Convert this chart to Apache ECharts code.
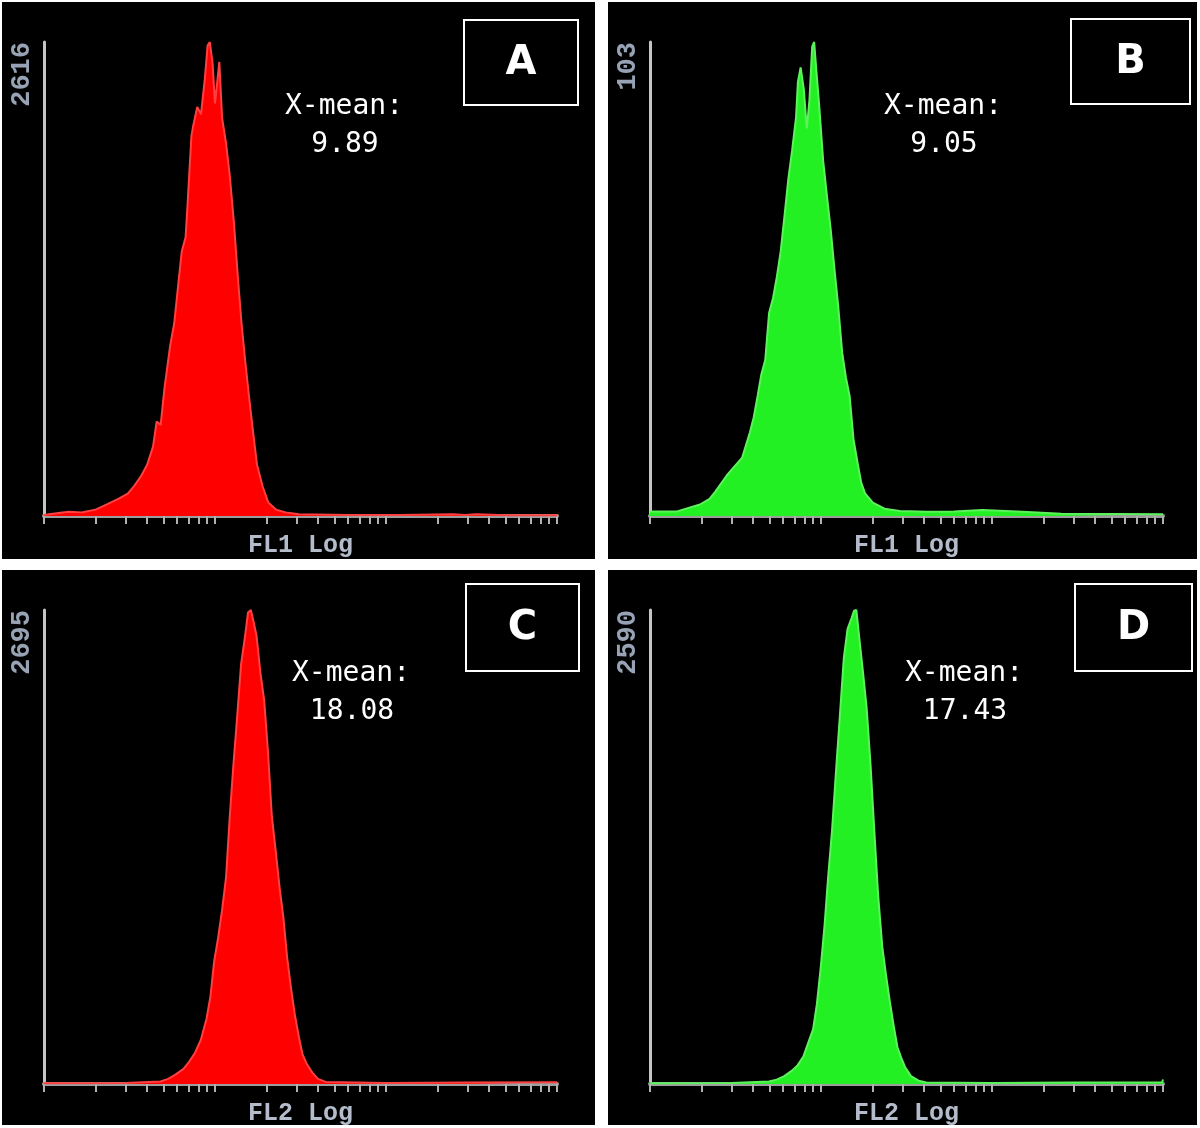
<!DOCTYPE html>
<html>
<head>
<meta charset="utf-8">
<title>FL1 / FL2 Log histograms</title>
<script src="https://cdn.jsdelivr.net/npm/echarts@6.0.0/dist/echarts.min.js"></script>
<style>
html, body { margin: 0; padding: 0; background: #fff; }
.panel { position: absolute; background: #000; }
#panelA { left: 2px; top: 2px; width: 593px; height: 557px; }
#panelB { left: 608px; top: 2px; width: 589px; height: 557px; }
#panelC { left: 2px; top: 570px; width: 593px; height: 555px; }
#panelD { left: 608px; top: 570px; width: 589px; height: 555px; }
</style>
</head>
<body>
<div id="panelA" class="panel"></div>
<div id="panelB" class="panel"></div>
<div id="panelC" class="panel"></div>
<div id="panelD" class="panel"></div>

<script>
// panel letters, x-axis names, y-axis max counts, X-mean values
var panelLetters = ['A', 'B', 'C', 'D']
var axisNames = ['FL1 Log', 'FL1 Log', 'FL2 Log', 'FL2 Log']
var maxCounts = [2616, 103, 2695, 2590]
var xMeans = ['9.89', '9.05', '18.08', '17.43']

// A - FL1, red
var fluorA = [1, 1.07, 1.39, 1.66, 1.99, 2.33, 2.72, 3.09, 3.35, 3.71, 4.01, 4.34, 4.56, 4.81, 5.06, 5.47, 5.77, 6.07, 6.39, 6.73, 6.91, 7.28, 7.47, 7.87, 8.28, 8.73, 9.05, 9.33, 9.68, 10.0, 10.6, 11.0, 11.6, 12.2, 12.9, 13.6, 14.3, 15.0, 15.8, 16.7, 17.6, 19.0, 20.5, 22.8, 25.9, 31.0, 60, 120, 246, 290, 337, 500, 1000]
var countsA = [6, 10, 24, 20, 34, 64, 94, 124, 163, 223, 283, 383, 522, 502, 702, 941, 1061, 1260, 1460, 1539, 1719, 2098, 2157, 2257, 2217, 2417, 2596, 2616, 2496, 2277, 2506, 2197, 2058, 1878, 1619, 1320, 1061, 861, 662, 463, 283, 163, 74, 34, 20, 10, 6, 5, 10, 6, 10, 4, 4]

// B - FL1, green
var fluorB = [1, 1.03, 1.44, 1.96, 2.23, 2.41, 2.81, 3.12, 3.46, 3.84, 4.04, 4.26, 4.48, 4.72, 4.97, 5.24, 5.52, 5.81, 6.12, 6.44, 6.78, 7.14, 7.33, 7.60, 7.93, 8.26, 8.56, 8.88, 9.12, 9.40, 9.74, 10.3, 10.8, 11.4, 12.0, 12.6, 13.3, 14.0, 14.7, 15.5, 16.3, 17.2, 18.1, 20.1, 23.5, 28.9, 41.5, 60, 87.9, 151, 254, 1000]
var countsB = [1, 1, 1, 2.5, 3.7, 5.3, 8.8, 10.8, 12.7, 18.2, 21.4, 26.1, 30.8, 33.9, 44.1, 47.3, 52.0, 57.5, 65.3, 73.2, 79.5, 86.5, 94.4, 97.5, 92.8, 84.2, 90.4, 102, 103, 96.7, 89.6, 77.1, 70.0, 62.2, 53.5, 45.7, 35.5, 30.0, 26.1, 16.6, 11.9, 7.2, 4.9, 2.9, 1.6, 1.1, 0.9, 1, 1.3, 0.9, 0.5, 0.4]

// C - FL2, red
var fluorC = [1, 3, 4.80, 5.32, 5.90, 6.54, 7.07, 7.64, 8.26, 8.93, 9.40, 9.90, 10.4, 11.0, 11.6, 12.2, 12.8, 13.5, 14.2, 15.0, 15.6, 16.2, 16.8, 17.5, 18.4, 19.4, 20.4, 21.5, 22.7, 23.9, 25.1, 26.4, 27.9, 29.3, 30.9, 32.5, 34.3, 37.0, 40.0, 44.4, 100, 300, 1000]
var countsC = [4, 5, 14, 29, 55, 86, 127, 178, 250, 373, 496, 701, 824, 988, 1173, 1521, 1809, 2097, 2384, 2548, 2681, 2695, 2630, 2548, 2343, 2179, 1891, 1521, 1316, 1111, 947, 722, 537, 394, 271, 168, 117, 66, 29, 12, 6, 8, 10]

// D - FL2, green
var fluorD = [1, 3, 4.96, 5.50, 6.10, 6.76, 7.31, 7.90, 8.53, 8.99, 9.46, 9.96, 10.5, 11.0, 11.6, 12.3, 12.9, 13.6, 14.3, 15.1, 15.6, 16.1, 16.7, 17.6, 18.5, 19.5, 20.5, 21.6, 22.8, 24.0, 25.2, 26.6, 28.0, 29.5, 31.0, 33.6, 37.2, 41.3, 100, 300, 990, 1000]
var countsD = [4, 5, 14, 24, 43, 73, 103, 152, 240, 298, 436, 634, 871, 1127, 1383, 1738, 2014, 2329, 2487, 2546, 2586, 2590, 2448, 2250, 2053, 1738, 1383, 1028, 753, 595, 457, 319, 201, 142, 93, 43, 18, 8, 6, 8, 10, 25]

var panels = [
  { id: 'panelA', x: fluorA, y: countsA, fill: '#ff0000', line: '#ff4040',
    box: [462, 18, 114, 85], meanX: 342, meanY: 105 },
  { id: 'panelB', x: fluorB, y: countsB, fill: '#22f022', line: '#5cf25c',
    box: [463, 17, 119, 85], meanX: 335, meanY: 105 },
  { id: 'panelC', x: fluorC, y: countsC, fill: '#ff0000', line: '#ff4040',
    box: [464, 14, 113, 87], meanX: 349, meanY: 104 },
  { id: 'panelD', x: fluorD, y: countsD, fill: '#22f022', line: '#5cf25c',
    box: [467, 14, 117, 87], meanX: 356, meanY: 104 }
]

var axisFont = 'Liberation Mono'
var tickStyle = { color: '#b0b0b0', width: 2 }

function buildOption(p, i) {
  var max = maxCounts[i]
  var data = p.x.map(function (v, k) { return [v, p.y[k]] })
  return {
    backgroundColor: '#000',
    animation: false,
    // fixed plot box, don't let v6 shrink it around the axis name
    grid: { left: 42, top: 40, width: 513, height: 474, containLabel: false, outerBoundsMode: 'none' },
    xAxis: {
      type: 'log',
      logBase: 10,
      min: 1,
      max: 1000,
      name: axisNames[i],
      nameLocation: 'middle',
      nameGap: 17,
      nameTextStyle: { color: '#b4bccb', fontSize: 25, fontFamily: axisFont, fontWeight: 'bold' },
      axisLine: { onZero: false, lineStyle: { color: '#9c9c9c', width: 4 } },
      axisTick: { show: true, length: 8, lineStyle: tickStyle },
      minorTick: { show: true, splitNumber: 9, length: 8, lineStyle: tickStyle },
      axisLabel: { show: false },
      splitLine: { show: false },
      minorSplitLine: { show: false }
    },
    yAxis: {
      type: 'value',
      min: 0,
      max: max,
      interval: max,
      axisLine: { show: true, onZero: false, lineStyle: { color: '#c4c4c4', width: 3 } },
      axisTick: { show: false },
      splitLine: { show: false },
      axisLabel: {
        rotate: 90,
        align: 'right',
        margin: 8,
        color: '#97a3b4',
        fontSize: 27,
        fontFamily: axisFont,
        fontWeight: 'bold',
        formatter: function (v) { return v === max ? String(v) : '' }
      }
    },
    series: [{
      type: 'line',
      data: data,
      showSymbol: false,
      lineStyle: { color: p.line, width: 2 },
      areaStyle: { color: p.fill, opacity: 1 }
    }],
    graphic: [
      {
        type: 'rect',
        shape: { x: p.box[0], y: p.box[1], width: p.box[2], height: p.box[3] },
        style: { fill: 'none', stroke: '#fff', lineWidth: 2 }
      },
      {
        type: 'text',
        x: p.box[0] + p.box[2] / 2,
        y: p.box[1] + p.box[3] / 2 + 1,
        style: { text: panelLetters[i], fill: '#fff', fontSize: 40, fontWeight: 'bold',
          fontFamily: 'DejaVu Sans', align: 'center', verticalAlign: 'middle' }
      },
      {
        type: 'text',
        x: p.meanX,
        y: p.meanY,
        style: { text: 'X-mean:', fill: '#fff', fontSize: 28, fontFamily: 'DejaVu Sans Mono',
          align: 'center', verticalAlign: 'middle' }
      },
      {
        type: 'text',
        x: p.meanX + 1,
        y: p.meanY + 38,
        style: { text: xMeans[i], fill: '#fff', fontSize: 28, fontFamily: 'DejaVu Sans Mono',
          align: 'center', verticalAlign: 'middle' }
      }
    ]
  }
}

panels.forEach(function (p, i) {
  var chart = echarts.init(document.getElementById(p.id))
  chart.setOption(buildOption(p, i))
})
</script>
</body>
</html>
